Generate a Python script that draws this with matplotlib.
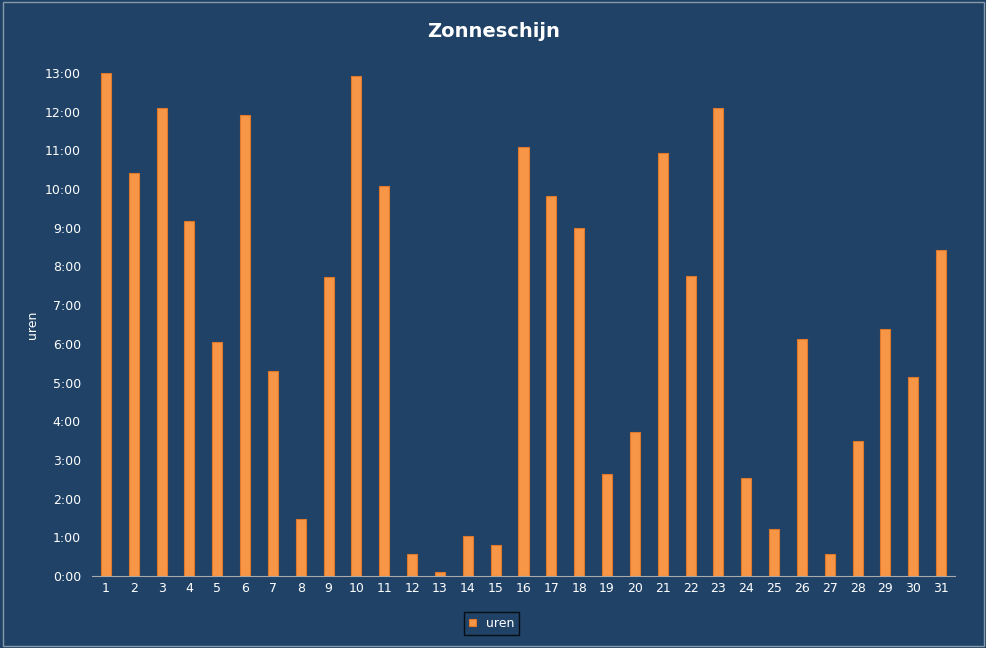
import matplotlib
matplotlib.use("Agg")
import matplotlib.pyplot as plt
from matplotlib.ticker import FuncFormatter, MultipleLocator

days = list(range(1, 32))
uren = [13.0, 10.41, 12.09, 9.17, 6.05, 11.91, 5.30, 1.47, 7.73, 12.92, 10.08,
        0.57, 0.1, 1.03, 0.8, 11.08, 9.82, 8.99, 2.64, 3.72, 10.93, 7.75,
        12.09, 2.53, 1.21, 6.12, 0.57, 3.49, 6.38, 5.14, 8.42]

bg = "#1F4266"
fig = plt.figure(figsize=(9.87, 6.48), dpi=100, facecolor=bg)
fig.patches.append(plt.Rectangle((0.003, 0.003), 0.994, 0.994, transform=fig.transFigure,
                                 fill=False, edgecolor="#8899aa", linewidth=1))
ax = fig.add_axes([92/987, 72/648, 863/987, 503/648])
ax.set_facecolor(bg)
ax.bar(days, uren, width=0.36, color="#F79646", edgecolor="#E0782A", linewidth=0.8, label="uren")
ax.set_xlim(0.5, 31.5)
ax.set_ylim(0, 13)
ax.yaxis.set_major_locator(MultipleLocator(1))
ax.yaxis.set_major_formatter(FuncFormatter(lambda v, p: f"{int(round(v))}:00"))
ax.set_xticks(days)
for s in ["top", "right", "left"]:
    ax.spines[s].set_visible(False)
ax.spines["bottom"].set_color("#aaaaaa")
ax.tick_params(colors="white", labelsize=9, length=0, pad=8)
ax.tick_params(axis="x", pad=4)
ax.set_ylabel("uren", color="white", fontsize=9)
fig.text(0.5, 0.952, "Zonneschijn", ha="center", va="center", color="white",
         fontsize=14, fontweight="bold")
leg = fig.legend(loc="center", bbox_to_anchor=(0.498, 0.038), fontsize=9, frameon=True,
                 handlelength=0.6, handleheight=0.6, borderpad=0.4)
leg.get_frame().set_facecolor(bg)
leg.get_frame().set_edgecolor("black")
leg.get_frame().set_boxstyle("square", pad=0)
for t in leg.get_texts():
    t.set_color("white")
fig.savefig("out.png", dpi=100, facecolor=bg)
